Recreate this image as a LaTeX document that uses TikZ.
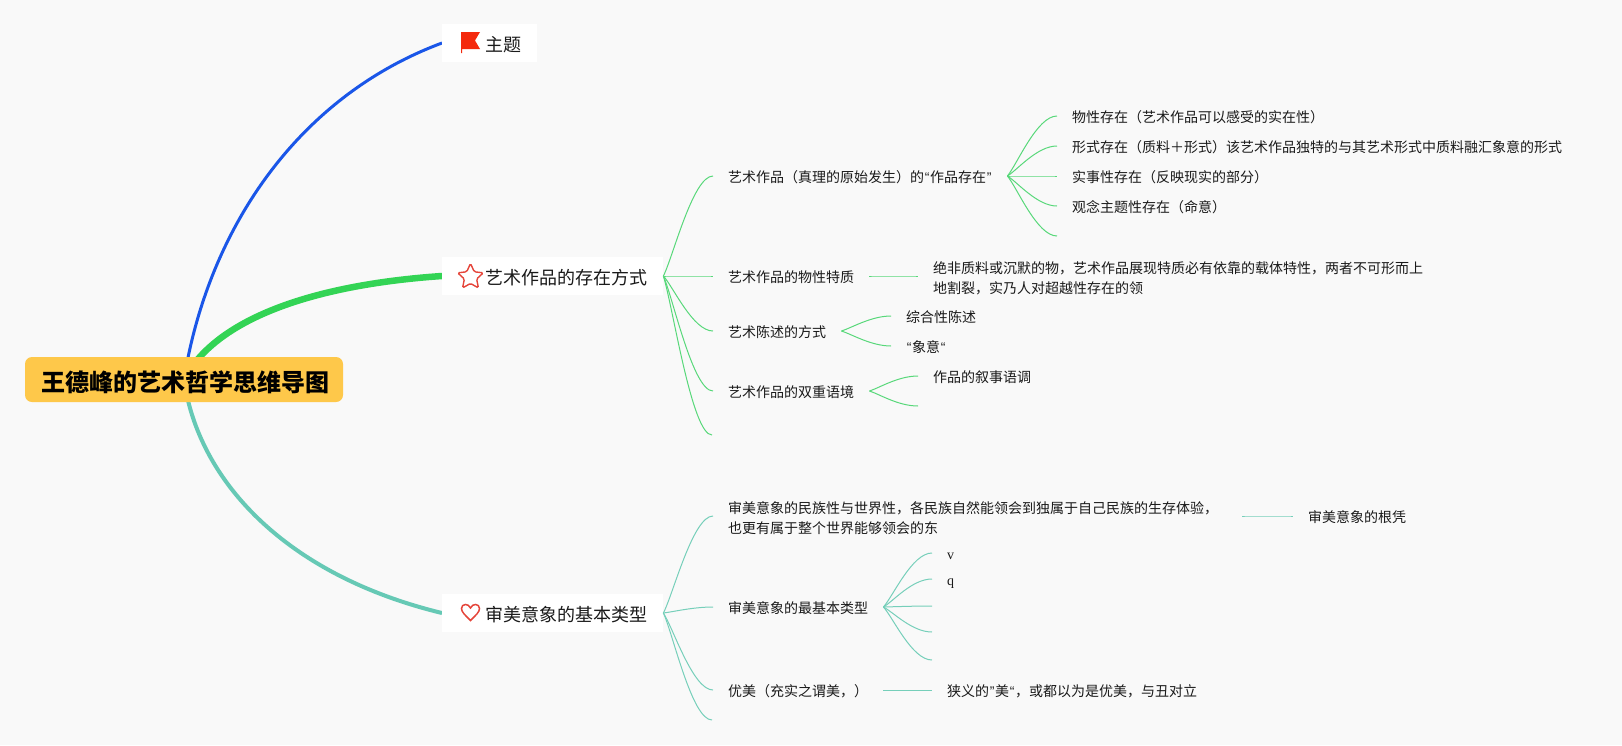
\documentclass[tikz,border=0pt]{standalone}
\usepackage{fontspec}
\setmainfont{Noto Sans CJK SC}
\newfontfamily\latinfont{Liberation Serif}
\newfontfamily\quotefont{Liberation Sans}
\newcommand{\qmark}[1]{\makebox[6pt]{\quotefont #1}}
\usetikzlibrary{calc,backgrounds,shapes.geometric}
\definecolor{pagebg}{HTML}{F9F9F9}
\definecolor{rootfill}{HTML}{FEC84A}
\definecolor{bluelink}{HTML}{1A56E8}
\definecolor{greenlink}{HTML}{33D455}
\definecolor{teallink}{HTML}{66C9B5}
\definecolor{greensub}{HTML}{58D87A}
\definecolor{tealsub}{HTML}{76CFBA}
\definecolor{iconred}{HTML}{E5453A}
\definecolor{flagred}{HTML}{F4290D}
\definecolor{inktext}{HTML}{1A1A1A}
\tikzstyle{root} = [rectangle, rounded corners=7pt, fill=rootfill, minimum width=318pt, minimum height=45pt, inner sep=0pt, text height=24pt, text depth=0pt, font=\fontsize{24}{28}\selectfont\bfseries, text=black]
\tikzstyle{topic} = [rectangle, fill=white, anchor=west, minimum height=38pt, inner xsep=16pt, inner ysep=0pt, text height=16.5pt, text depth=0pt, font=\fontsize{18}{22}\selectfont, text=inktext]
\tikzstyle{sub} = [rectangle, anchor=west, inner xsep=15pt, inner ysep=0pt, text height=13pt, text depth=0pt, font=\fontsize{14}{20}\selectfont, text=inktext]
\tikzstyle{subtwo} = [sub, align=left, text depth=18pt]
\tikzstyle{subgreen} = [draw=greensub, line width=1pt]
\tikzstyle{subteal} = [draw=tealsub, line width=1pt]

\begin{document}
\begin{tikzpicture}[x=1pt, y=-1pt]
\useasboundingbox (0,0) rectangle (1622,745);

\node [root] (root) at (184,379.5) {\hspace{3pt}王德峰的艺术哲学思维导图};

\node [topic] (flagtopic) at (442,43) {\hspace{27pt}主题\hspace{1pt}};
\node [topic] (startopic) at (442,276) {\hspace{27pt}艺术作品的存在方式\hspace{1pt}};
\node [topic] (hearttopic) at (442,613) {\hspace{27pt}审美意象的基本类型\hspace{1pt}};

\node [sub] (art1) at (713,176) {艺术作品（真理的原始发生）的\qmark{“}作品存在\qmark{”}};
\node [sub] (art2) at (713,276) {艺术作品的物性特质};
\node [sub] (art3) at (713,331) {艺术陈述的方式};
\node [sub] (art4) at (713,391) {艺术作品的双重语境};
\coordinate (art5) at (712,435);

\node [sub] (being1) at (1057,116) {物性存在（艺术作品可以感受的实在性）};
\node [sub] (being2) at (1057,146) {形式存在（质料＋形式）该艺术作品独特的与其艺术形式中质料融汇象意的形式};
\node [sub] (being3) at (1057,176) {实事性存在（反映现实的部分）};
\node [sub] (being4) at (1057,206) {观念主题性存在（命意）};
\coordinate (being5) at (1057,236);

\node [subtwo, text width=495pt] (trait) at (918,276) {绝非质料或沉默的物，艺术作品展现特质必有依靠的载体特性，两者不可形而上\\地割裂，实乃人对超越性存在的领};
\node [sub] (state1) at (891,316) {综合性陈述};
\node [sub] (state2) at (891,346) {\qmark{“}象意\qmark{“}};
\node [sub] (tone1) at (918,376) {作品的叙事语调};
\coordinate (tone2) at (918,406);

\node [subtwo, text width=499pt] (aes1) at (713,516) {审美意象的民族性与世界性，各民族自然能领会到独属于自己民族的生存体验，\\也更有属于整个世界能够领会的东};
\node [sub] (aes2) at (713,607) {审美意象的最基本类型};
\node [sub] (aes3) at (713,690) {优美（充实之谓美，）};
\coordinate (aes4) at (712,720);

\node [sub] (basis) at (1293,516) {审美意象的根凭};
\node [sub] (kind1) at (932,553) {\latinfont v};
\node [sub] (kind2) at (932,579) {\latinfont q};
\coordinate (kind3) at (932,606);
\coordinate (kind4) at (932,632);
\coordinate (kind5) at (932,660);
\node [sub] (narrow) at (932,690) {狭义的\qmark{”}美\qmark{“}，或都以为是优美，与丑对立};

\fill [flagred] (461,32) -- (480,32) -- (475,40.5) -- (480,49) -- (462,49) -- (462,53) -- (461,53) -- cycle;
\node [star, star points=5, star point ratio=2.1, draw=iconred, line width=1.4pt, rounded corners=1.5pt, minimum size=27pt, inner sep=0pt] (staricon) at (470.5,277) {};
\draw [iconred, line width=1.5pt] (470.5,620.5) .. controls (465,615) and (461.5,612) .. (461.5,608.5) .. controls (461.5,603.5) and (468.5,603) .. (470.5,608) .. controls (472.5,603) and (479.5,603.5) .. (479.5,608.5) .. controls (479.5,612) and (476,615) .. (470.5,620.5) -- cycle;

\begin{scope}[on background layer]
\fill [pagebg] (0,0) rectangle (1622,745);
\draw [bluelink, line width=3pt] (root.center) .. controls (208,230) and (297,97) .. (flagtopic.west);
\draw [greenlink, line width=6.5pt] (root.center) .. controls (215,320) and (310,285) .. (startopic.west);
\draw [teallink, line width=4pt] (root.center) .. controls (198,480) and (285,575) .. (hearttopic.west);
\end{scope}

\foreach \a/\b in {startopic.east/art1.west, startopic.east/art2.west, startopic.east/art3.west, startopic.east/art4.west, startopic.east/art5, art1.east/being1.west, art1.east/being2.west, art1.east/being3.west, art1.east/being4.west, art1.east/being5, art2.east/trait.west, art3.east/state1.west, art3.east/state2.west, art4.east/tone1.west, art4.east/tone2}
	\draw [subgreen] (\a) .. controls ($(\a)!.2!(\b)$) and ($(\b)+(-20,0)$) .. (\b);

\foreach \a/\b in {hearttopic.east/aes1.west, hearttopic.east/aes2.west, hearttopic.east/aes3.west, hearttopic.east/aes4, aes1.east/basis.west, aes2.east/kind1.west, aes2.east/kind2.west, aes2.east/kind3, aes2.east/kind4, aes2.east/kind5, aes3.east/narrow.west}
	\draw [subteal] (\a) .. controls ($(\a)!.2!(\b)$) and ($(\b)+(-20,0)$) .. (\b);

\end{tikzpicture}
\end{document}
